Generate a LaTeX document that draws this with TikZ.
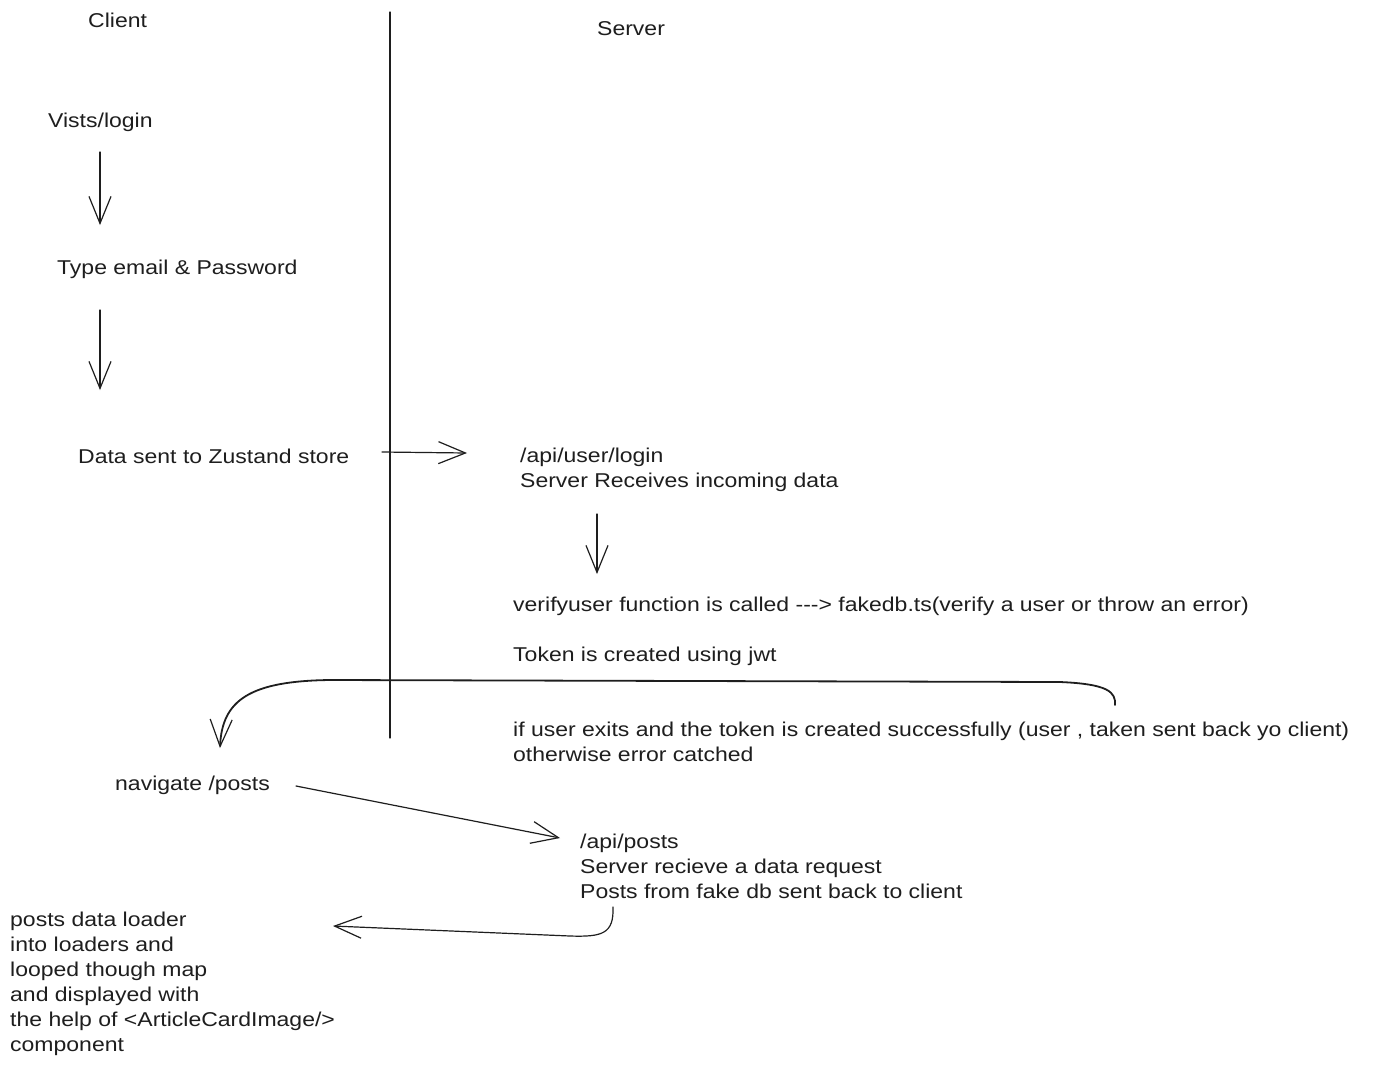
\documentclass[tikz,border=0pt]{standalone}
\usepackage{fontspec}
\setmainfont[FakeStretch=1.15]{Liberation Sans}
\usetikzlibrary{arrows.meta}
\definecolor{ink}{HTML}{1E1E1E}
\begin{document}
\begin{tikzpicture}[x=1pt,y=-1pt,
  txt/.style={inner sep=0pt, anchor=base west, align=left, text=ink,
              font=\fontsize{20}{25}\selectfont},
  flow/.style={draw=ink, line width=1.2pt, line cap=round, line join=round,
               -{Straight Barb[length=27pt,width=22pt,line width=1.2pt]}},
  pen/.style={draw=ink, line width=1.2pt, line cap=round},
]
\useasboundingbox[fill=white] (0,0) rectangle (1387,1069);

% column titles and divider
\node[txt] (client) at (88,27) {Client};
\node[txt] (server) at (597,35) {Server};
\coordinate (divtop) at (390,12);
\coordinate (divbot) at (390,738);
\draw[pen] (divtop) -- (divbot);

% client side steps
\node[txt] (visit) at (48,127) {Vists/login};
\node[txt] (type) at (57,274) {Type email \& Password};
\node[txt] (zust) at (78,463) {Data sent to Zustand store};

% server side steps (multi-line nodes sit on the baseline of their last line)
\node[txt] (login) at (520,487) {/api/user/login\\Server Receives incoming data};
\node[txt] (verify) at (513,611) {verifyuser function is called {-}{-}{-}> fakedb.ts(verify a user or throw an error)};
\node[txt] (token) at (513,661) {Token is created using jwt};
\node[txt] (ifuser) at (513,761) {if user exits and the token is created successfully (user , taken sent back yo client)\\otherwise error catched};

% posts round trip
\node[txt] (nav) at (115,790) {navigate /posts};
\node[txt] (posts) at (580,898) {/api/posts\\Server recieve a data request\\Posts from fake db sent back to client};
\node[txt] (loader) at (10,1051) {posts data loader\\into loaders and\\looped though map\\and displayed with\\the help of <ArticleCardImage/>\\component};

% arrow end points
\coordinate (a1s) at (100,152);  \coordinate (a1e) at (100,225);
\coordinate (a2s) at (100,310);  \coordinate (a2e) at (100,390);
\coordinate (a3s) at (382,452);  \coordinate (a3e) at (467,453);
\coordinate (a4s) at (597,514);  \coordinate (a4e) at (597,574);
\coordinate (c1s) at (1115,705); \coordinate (c1e) at (220,748);
\coordinate (a5s) at (296,786);  \coordinate (a5e) at (560,838);
\coordinate (a6s) at (613,907);  \coordinate (a6e) at (333,926);

\draw[flow] (a1s) -- (a1e);
\draw[flow] (a2s) -- (a2e);
\draw[flow] (a3s) -- (a3e);
\draw[flow] (a4s) -- (a4e);
\draw[flow, line width=1.8pt] (c1s) .. controls (1116,692) and (1108,684) .. (1060,682)
   -- (330,680) .. controls (250,681) and (222,700) .. (c1e);
\draw[flow] (a5s) -- (a5e);
\draw[flow] (a6s) .. controls (614,934) and (602,937) .. (570,936) -- (a6e);
\end{tikzpicture}
\end{document}
